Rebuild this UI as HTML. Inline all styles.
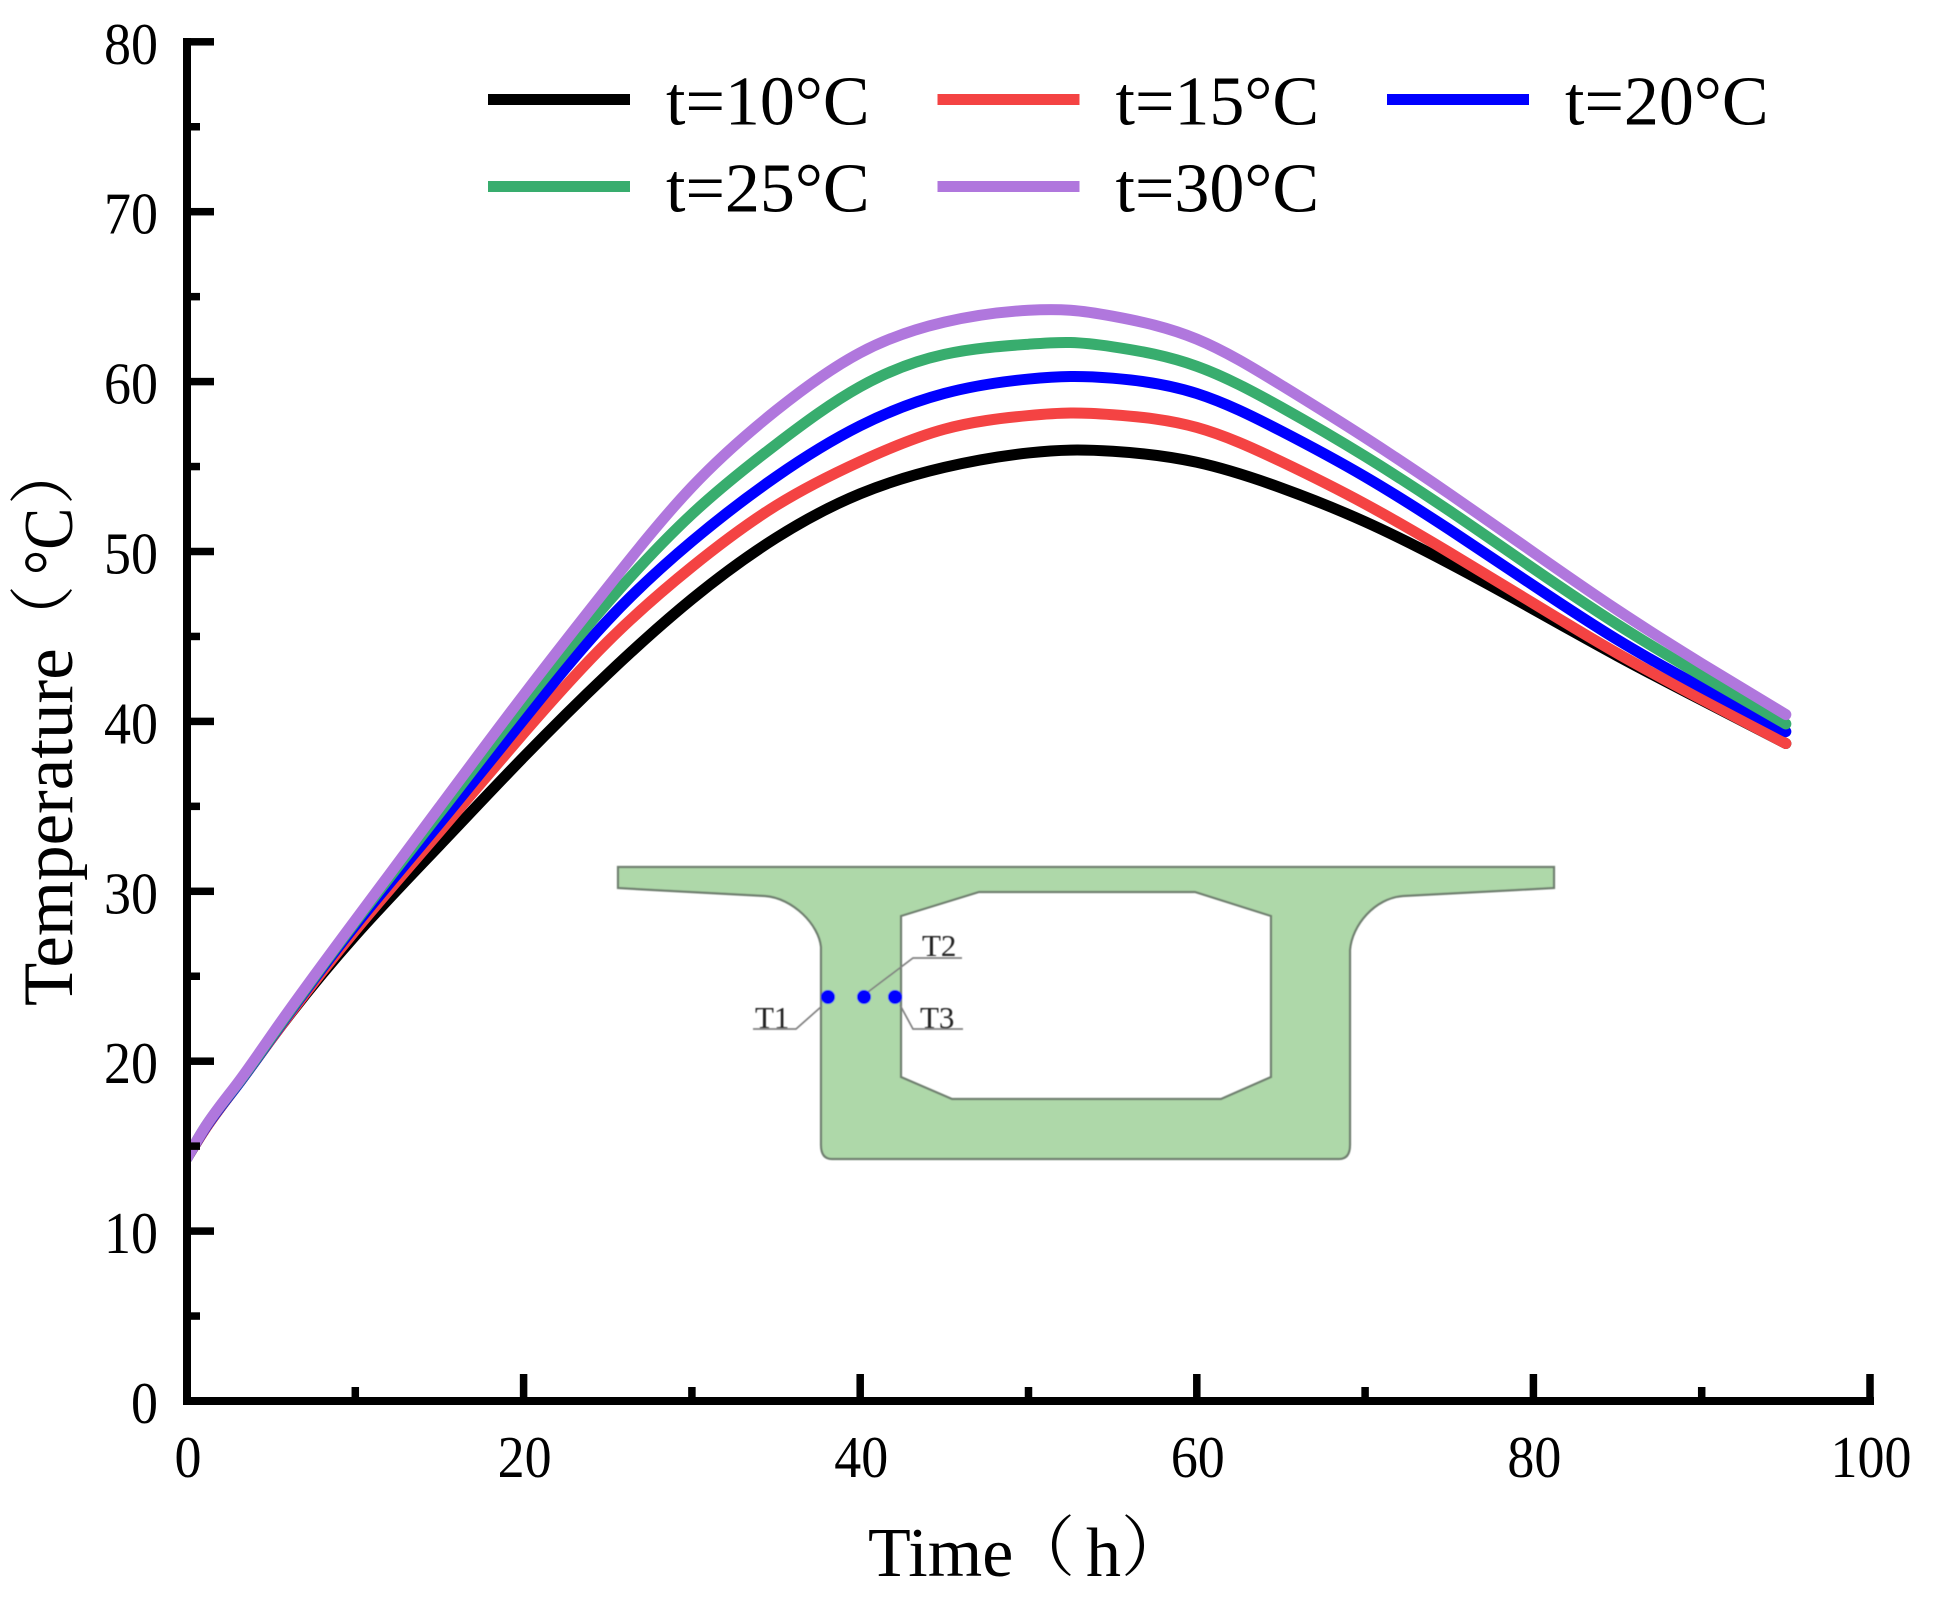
<!DOCTYPE html>
<html lang="en">
<head>
<meta charset="utf-8">
<title>Temperature vs Time</title>
<style>
html,body{margin:0;padding:0;background:#fff;}
svg{display:block;}
text{font-family:"Liberation Serif","Noto Serif CJK SC",serif;fill:#000;}
</style>
</head>
<body>
<svg id="chart" xmlns="http://www.w3.org/2000/svg" width="1936" height="1603" viewBox="0 0 1936 1603">
  <rect x="0" y="0" width="1936" height="1603" fill="#fff"/>
  <defs>
    <clipPath id="plot-clip"><rect x="186" y="0" width="1750" height="1603"/></clipPath>
    <filter id="soft" x="-5%" y="-5%" width="110%" height="110%"><feGaussianBlur stdDeviation="0.6"/></filter>
  </defs>

  <g id="inset" filter="url(#soft)">
    <path fill="#aed8a9" stroke="#6f7f6f" stroke-width="2.2" fill-rule="evenodd"
      d="M618,867 L1554,867 L1554,888 L1517,890 L1403,896 C1375,898 1352,925 1350,950 L1350,1145 Q1350,1159 1339,1159 L832,1159 Q821,1159 821,1145 L821,947 C819,925 793,898 765,896 L653,890 L618,888 Z
         M901,916 L979,892 L1195,892 L1271,916 L1271,1077 L1221,1099 L952,1099 L901,1077 Z"/>
    <g fill="none" stroke="#808080" stroke-width="1.7">
      <path d="M822,1006 L796,1029 L753,1029"/>
      <path d="M868,992 L913,958 L962,958"/>
      <path d="M900,1005 L913,1029 L963,1029"/>
    </g>
    <circle cx="828" cy="997" r="7" fill="#0000ff"/>
    <circle cx="864" cy="997" r="7" fill="#0000ff"/>
    <circle cx="895" cy="997" r="7" fill="#0000ff"/>
    <text x="755" y="1028" font-size="31" style="fill:#222">T1</text>
    <text x="922" y="956" font-size="31" style="fill:#222">T2</text>
    <text x="920" y="1028" font-size="31" style="fill:#222">T3</text>
  </g>

  <g id="series" clip-path="url(#plot-clip)"></g>
  <g id="axes"></g>
  <g id="legend"></g>

  <g>
    <text x="868" y="1576" font-size="70">Time</text>
    <text x="1009" y="1570" font-size="66">（</text>
    <text x="1086" y="1576" font-size="70">h</text>
    <text x="1121" y="1570" font-size="66">）</text>
  </g>

  <g>
    <text transform="translate(72,1006) rotate(-90)" font-size="71">Temperature</text>
    <text transform="translate(66,651) rotate(-90)" font-size="66">（</text>
    <text transform="translate(72,575) rotate(-90) scale(0.9,1)" font-size="70">°C</text>
    <text transform="translate(66,505) rotate(-90)" font-size="66">）</text>
  </g>
</svg>

<script>
const hours = [0, 1, 3, 5, 10, 15, 20, 25, 30, 35, 40, 45, 50, 52.5, 55, 60, 65, 70, 75, 80, 85, 90, 95];
const t10 = [14.3, 15.9, 18.6, 21.3, 27.4, 32.7, 37.9, 42.8, 47.2, 50.8, 53.4, 54.95, 55.8, 55.97, 55.9, 55.25, 53.75, 51.75, 49.3, 46.6, 43.85, 41.25, 38.7];
const t15 = [14.3, 15.9, 18.6, 21.3, 27.7, 33.5, 39.3, 44.7, 49.1, 52.7, 55.3, 57.2, 58.0, 58.15, 58.05, 57.3, 55.3, 52.8, 49.95, 46.95, 44.0, 41.3, 38.7];
const t20 = [14.3, 15.95, 18.6, 21.35, 28.0, 34.0, 40.1, 45.95, 50.6, 54.4, 57.4, 59.3, 60.15, 60.3, 60.2, 59.3, 57.1, 54.4, 51.3, 48.0, 44.8, 42.0, 39.4];
const t25 = [14.3, 16.0, 18.65, 21.4, 28.2, 34.6, 41.0, 47.0, 52.2, 56.3, 59.7, 61.6, 62.2, 62.3, 62.05, 60.9, 58.5, 55.6, 52.4, 49.0, 45.7, 42.7, 39.85];
const t30 = [14.3, 16.0, 18.7, 21.5, 28.3, 34.95, 41.55, 47.9, 53.8, 58.3, 61.7, 63.5, 64.2, 64.2, 63.85, 62.5, 59.8, 56.7, 53.4, 49.95, 46.55, 43.4, 40.4];

const seriesNames = ["t=10°C", "t=15°C", "t=20°C", "t=25°C", "t=30°C"];
const seriesColors = ["#000000", "#f44343", "#0000ff", "#38ad6e", "#b077dd"];

const xMajorTicks = [0, 20, 40, 60, 80, 100];
const xMinorTicks = [10, 30, 50, 70, 90];
const yMajorTicks = [0, 10, 20, 30, 40, 50, 60, 70, 80];
const yMinorTicks = [5, 15, 25, 35, 45, 55, 65, 75];

const NS = "http://www.w3.org/2000/svg";
function xScale(h) { return 187 + 16.83 * h; }
function yScale(t) { return 1401 - 16.99 * t; }

function make(tag, attrs, parent) {
  const el = document.createElementNS(NS, tag);
  for (const k in attrs) el.setAttribute(k, attrs[k]);
  parent.appendChild(el);
  return el;
}

/* Natural cubic spline through the data points, emitted as Bezier segments. */
function smoothPath(xs, ys) {
  const X = xs.map(xScale), Y = ys.map(yScale), n = X.length;
  const h = [], a = new Array(n).fill(0), b = new Array(n).fill(0), c = new Array(n).fill(0), r = new Array(n).fill(0);
  for (let i = 0; i < n - 1; i++) h.push(X[i + 1] - X[i]);
  b[0] = 1; b[n - 1] = 1;
  for (let i = 1; i < n - 1; i++) {
    a[i] = h[i - 1];
    b[i] = 2 * (h[i - 1] + h[i]);
    c[i] = h[i];
    r[i] = 6 * ((Y[i + 1] - Y[i]) / h[i] - (Y[i] - Y[i - 1]) / h[i - 1]);
  }
  for (let i = 1; i < n; i++) {
    const w = a[i] / b[i - 1];
    b[i] -= w * c[i - 1];
    r[i] -= w * r[i - 1];
  }
  const m = new Array(n).fill(0);
  m[n - 1] = r[n - 1] / b[n - 1];
  for (let i = n - 2; i >= 0; i--) m[i] = (r[i] - c[i] * m[i + 1]) / b[i];
  let d = "M" + X[0].toFixed(2) + "," + Y[0].toFixed(2);
  for (let i = 0; i < n - 1; i++) {
    const s0 = (Y[i + 1] - Y[i]) / h[i] - h[i] * (2 * m[i] + m[i + 1]) / 6;
    const s1 = (Y[i + 1] - Y[i]) / h[i] + h[i] * (m[i] + 2 * m[i + 1]) / 6;
    d += " C" + (X[i] + h[i] / 3).toFixed(2) + "," + (Y[i] + s0 * h[i] / 3).toFixed(2) +
         " " + (X[i + 1] - h[i] / 3).toFixed(2) + "," + (Y[i + 1] - s1 * h[i] / 3).toFixed(2) +
         " " + X[i + 1].toFixed(2) + "," + Y[i + 1].toFixed(2);
  }
  return d;
}

const allSeries = [t10, t15, t20, t25, t30];
const seriesGroup = document.getElementById("series");
allSeries.forEach(function (vals, i) {
  const line = make("path", { d: smoothPath(hours, vals), fill: "none", stroke: seriesColors[i], "stroke-width": 11, "stroke-linecap": "round", "stroke-linejoin": "round" }, seriesGroup);
  
  
});

const axesGroup = document.getElementById("axes");
const leftSpine = make("rect", { x: 183, y: 38, width: 8, height: 1367, fill: "#000" }, axesGroup);


const bottomSpine = make("rect", { x: 183, y: 1397, width: 1691, height: 8, fill: "#000" }, axesGroup);



yMajorTicks.forEach(function (v) {
  const y = yScale(v);
  const tick = make("rect", { x: 191, y: y - 3.75, width: 23, height: 7.5, fill: "#000" }, axesGroup);
  
  
  const label = make("text", { transform: "translate(158," + (y + 22) + ") scale(0.915,1)", "font-size": 59, "text-anchor": "end" }, axesGroup);
  
  
  label.textContent = String(v);
});
yMinorTicks.forEach(function (v) {
  const tick = make("rect", { x: 191, y: yScale(v) - 3.75, width: 9, height: 7.5, fill: "#000" }, axesGroup);
  
  
});
xMajorTicks.forEach(function (v) {
  const x = xScale(v);
  const tick = make("rect", { x: x - 3.75, y: 1374, width: 7.5, height: 24, fill: "#000" }, axesGroup);
  
  
  const label = make("text", { transform: "translate(" + (x + 1) + ",1477) scale(0.915,1)", "font-size": 59, "text-anchor": "middle" }, axesGroup);
  
  
  label.textContent = String(v);
});
xMinorTicks.forEach(function (v) {
  const tick = make("rect", { x: xScale(v) - 3.75, y: 1387, width: 7.5, height: 11, fill: "#000" }, axesGroup);
  
  
});

const legendGroup = document.getElementById("legend");
const legendOrder = [0, 1, 2, 3, 4];
legendOrder.forEach(function (s, i) {
  const col = i % 3, row = Math.floor(i / 3);
  const x0 = 488 + col * 449.5;
  const cy = 99.5 + row * 87;
  const swatch = make("rect", { x: x0, y: cy - 5.5, width: 142, height: 11, fill: seriesColors[s] }, legendGroup);
  
  
  const label = make("text", { x: x0 + 178, y: cy + 25, "font-size": 70 }, legendGroup);
  
  
  label.textContent = seriesNames[s];
});
</script>
</body>
</html>
